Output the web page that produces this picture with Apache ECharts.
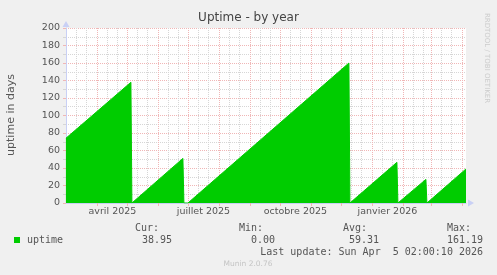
<!DOCTYPE html>
<html>
<head>
<meta charset="utf-8">
<script src="https://cdn.jsdelivr.net/npm/echarts@6/dist/echarts.min.js"></script>
<style>
html,body{margin:0;padding:0;background:#F0F0F0;}
#chart{width:497px;height:275px;}
</style>
</head>
<body>
<div id="chart"></div>
<script>
// ---- data ----
const dates = ['2025-03-01T00:00','2025-05-05T00:00','2025-05-06T00:00','2025-06-26T00:00','2025-06-27T00:00',
  '2025-07-01T00:00','2025-12-09T00:00','2025-12-10T00:00','2025-12-11T00:00','2026-01-26T00:00',
  '2026-01-27T00:00','2026-01-28T00:00','2026-02-24T00:00','2026-02-25T00:00','2026-04-05T02:00'];
const uptime = [74, 138, 0, 51, 0, 0, 160, 0, 0, 46.5, 0, 0, 27, 0, 38.95];

const axisStart = '2025-03-01T02:00';
const axisEnd = '2026-04-05T02:00';

const monthStarts = ['2025-04-01','2025-05-01','2025-06-01','2025-07-01','2025-08-01','2025-09-01',
  '2025-10-01','2025-11-01','2025-12-01','2026-01-01','2026-02-01','2026-03-01','2026-04-01'];
const minorDays = ['2025-03-11','2025-03-21','2025-04-11','2025-04-21','2025-05-11','2025-05-21',
  '2025-06-11','2025-06-21','2025-07-11','2025-07-21','2025-08-11','2025-08-21','2025-09-11','2025-09-21',
  '2025-10-11','2025-10-21','2025-11-11','2025-11-21','2025-12-11','2025-12-21','2026-01-11','2026-01-21',
  '2026-02-11','2026-02-21','2026-03-11','2026-03-21'];
const monthLabelDates = ['2025-04-16T12:00','2025-07-16T12:00','2025-10-16T12:00','2026-01-16T12:00'];
const monthLabelTexts = ['avril 2025','juillet 2025','octobre 2025','janvier 2026'];

const yTicks = {min: 0, max: 200, step: 20};

const statLabels = ['Cur:','Min:','Avg:','Max:'];
const statValues = ['38.95','0.00','59.31','161.19'];
const seriesName = 'uptime';
const lastUpdate = 'Last update: Sun Apr  5 02:00:10 2026';

// ---- helpers ----
const ts = s => new Date(s.length === 10 ? s + 'T00:00' : s).getTime();
const seriesData = dates.map((d, i) => [ts(d), uptime[i]]);
const majorTs = monthStarts.map(ts);
const minorTs = minorDays.map(ts);
const labelTs = monthLabelDates.map(ts);

const GREEN = '#00CC00';
const AXIS = '#C9D0F5';
const MAJ = '#F0B6B6';
const MIN = '#D6D6D6';
const TXT = '#555555';
const MONO = 'DejaVu Sans Mono';

const statLabelX = [159, 263, 367, 471];
const statValueX = [172, 275, 379, 483];

const graphics = [
  {type:'text', x: 11, y: 115, rotation: Math.PI/2,
   style:{text:'uptime in days', font:'11px "DejaVu Sans"', fill: TXT, align:'center', verticalAlign:'middle'}},
  {type:'text', x: 487, y: 58, rotation: -Math.PI/2,
   style:{text:'RRDTOOL / TOBI OETIKER', font:'7px "DejaVu Sans"', fill:'#CCCCCC', align:'center', verticalAlign:'middle'}},
  {type:'rect', shape:{x:14, y:237, width:6, height:6}, style:{fill: GREEN}},
  {type:'text', x: 27, y: 240, style:{text: seriesName, font:'10px "'+MONO+'"', fill: TXT, align:'left', verticalAlign:'middle'}},
  {type:'text', x: 483, y: 252, style:{text: lastUpdate, font:'10px "'+MONO+'"', fill: TXT, align:'right', verticalAlign:'middle'}},
  {type:'text', x: 248, y: 264, style:{text:'Munin 2.0.76', font:'7.5px "DejaVu Sans"', fill:'#C4C4C4', align:'center', verticalAlign:'middle'}}
];
statLabels.forEach((l, i) => {
  graphics.push({type:'text', x: statLabelX[i], y: 228, style:{text: l, font:'10px "'+MONO+'"', fill: TXT, align:'right', verticalAlign:'middle'}});
  graphics.push({type:'text', x: statValueX[i], y: 240, style:{text: statValues[i], font:'10px "'+MONO+'"', fill: TXT, align:'right', verticalAlign:'middle'}});
});

const chart = echarts.init(document.getElementById('chart'), null, {renderer:'canvas'});
chart.setOption({
  animation: false,
  backgroundColor: '#F0F0F0',
  textStyle: {fontFamily: 'DejaVu Sans'},
  title: {
    text: 'Uptime - by year', left: 'center', top: 12, padding: 0,
    textStyle: {fontSize: 12, fontWeight: 'normal', color: '#444', fontFamily: 'DejaVu Sans'}
  },
  grid: {left: 66, right: 31, top: 28, bottom: 72, show: true, backgroundColor: '#FFFFFF', borderWidth: 0},
  xAxis: {
    type: 'value', min: ts(axisStart), max: ts(axisEnd),
    axisLine: {show: true, onZero: false, lineStyle: {color: AXIS, width: 1}, symbol: ['none','triangle'], symbolSize: [7, 6], symbolOffset: [0, 5]},
    axisTick: {show: true, customValues: majorTs, length: 3, lineStyle: {color: MAJ}},
    axisLabel: {
      customValues: labelTs, margin: 4, fontSize: 9.5, color: TXT, fontFamily: 'DejaVu Sans',
      formatter: v => { const i = labelTs.indexOf(v); return i >= 0 ? monthLabelTexts[i] : ''; }
    },
    splitLine: {show: false}
  },
  yAxis: {
    type: 'value', min: yTicks.min, max: yTicks.max, interval: yTicks.step,
    axisLine: {show: true, lineStyle: {color: AXIS, width: 1}, symbol: ['none','triangle'], symbolSize: [7, 6], symbolOffset: [0, 4]},
    axisTick: {show: true, length: 3, lineStyle: {color: MAJ}},
    minorTick: {show: true, splitNumber: 2, length: 3, lineStyle: {color: MIN}},
    axisLabel: {margin: 6, fontSize: 9.5, color: TXT, fontFamily: 'DejaVu Sans'},
    splitLine: {show: true, lineStyle: {color: MAJ, type: [1, 1], width: 1}},
    minorSplitLine: {show: true, lineStyle: {color: MIN, type: [1, 1], width: 1}}
  },
  graphic: graphics,
  series: [
    {
      type: 'line', z: 1, silent: true, symbol: 'none',
      data: [[ts(axisStart), 0], [ts(axisEnd), 0]],
      lineStyle: {opacity: 0},
      markLine: {
        z: 1, silent: true, symbol: ['none','none'], label: {show: false}, animation: false,
        data: [
          ...minorTs.map(t => ({xAxis: t, lineStyle: {color: MIN, type: [1, 1], width: 1}})),
          ...majorTs.map(t => ({xAxis: t, lineStyle: {color: MAJ, type: [1, 1], width: 1}}))
        ]
      }
    },
    {
      name: seriesName, type: 'line', z: 3, symbol: 'none', data: seriesData,
      lineStyle: {color: GREEN, width: 1},
      areaStyle: {color: GREEN, opacity: 1}
    }
  ]
});
</script>
</body>
</html>
